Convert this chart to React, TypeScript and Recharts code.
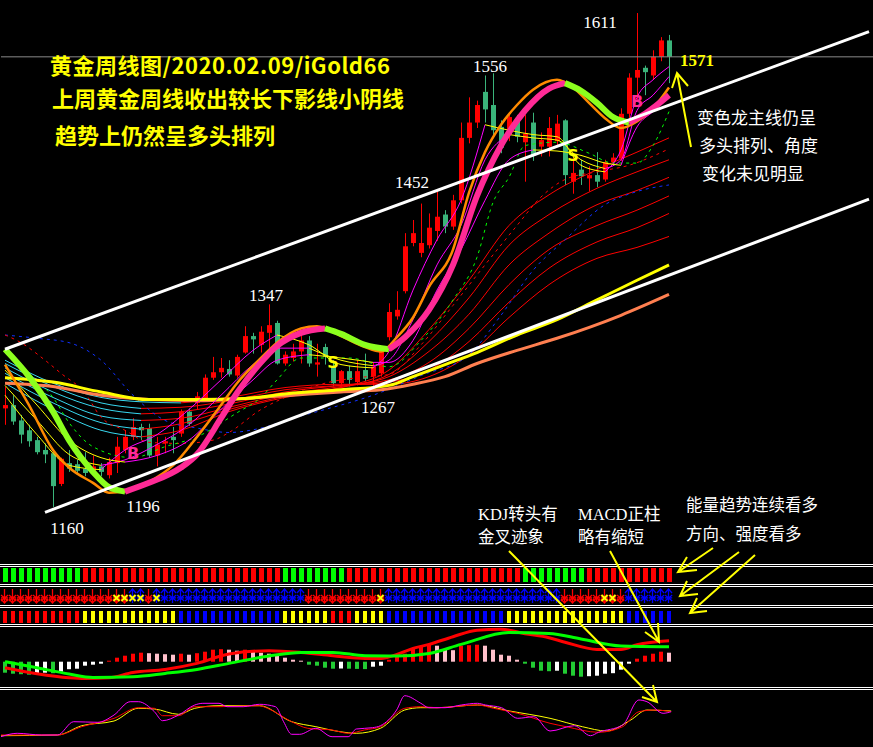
import React from "react";
import { ComposedChart, Bar, Line, XAxis, YAxis, ReferenceLine, ReferenceDot } from "recharts";

type Pt = [number, number];

// weekly gold candles, late Jun 2018 .. 7 Feb 2020
const opens = [
  1250, 1253, 1239, 1230, 1221, 1212, 1209, 1181, 1200, 1199,
  1195, 1193, 1197, 1189, 1200, 1212, 1224, 1233, 1232, 1207,
  1218, 1224, 1227, 1247, 1255, 1258, 1278, 1283, 1286, 1280,
  1301, 1316, 1308, 1319, 1328, 1291, 1296, 1302, 1312, 1290,
  1306, 1288, 1273, 1284, 1274, 1285, 1279, 1282, 1315, 1334,
  1357, 1401, 1392, 1399, 1412, 1427, 1416, 1440, 1497, 1511,
  1539, 1527, 1507, 1500, 1512, 1493, 1511, 1489, 1489, 1494,
  1513, 1457, 1468, 1460, 1463, 1459, 1475, 1478, 1519, 1552,
  1561, 1554, 1571, 1586,
];
const highs = [
  1270, 1262, 1244, 1235, 1224, 1218, 1212, 1205, 1212, 1203,
  1210, 1207, 1200, 1205, 1224, 1230, 1241, 1236, 1236, 1224,
  1224, 1233, 1249, 1250, 1265, 1281, 1297, 1296, 1294, 1299,
  1325, 1319, 1325, 1345, 1330, 1302, 1309, 1317, 1316, 1309,
  1309, 1294, 1285, 1289, 1294, 1300, 1292, 1306, 1346, 1357,
  1410, 1422, 1437, 1428, 1449, 1431, 1445, 1511, 1534, 1531,
  1554, 1556, 1513, 1520, 1518, 1518, 1520, 1502, 1516, 1518,
  1514, 1483, 1477, 1471, 1484, 1477, 1483, 1524, 1556, 1611,
  1563, 1577, 1589, 1591,
];
const lows = [
  1235, 1235, 1218, 1215, 1208, 1200, 1160, 1179, 1192, 1191,
  1188, 1192, 1188, 1186, 1191, 1209, 1221, 1221, 1205, 1197,
  1209, 1209, 1224, 1234, 1249, 1256, 1276, 1278, 1279, 1278,
  1300, 1300, 1301, 1305, 1290, 1289, 1293, 1291, 1288, 1279,
  1290, 1270, 1270, 1270, 1271, 1275, 1267, 1279, 1312, 1331,
  1355, 1398, 1388, 1396, 1403, 1410, 1413, 1437, 1492, 1506,
  1511, 1498, 1483, 1494, 1493, 1457, 1476, 1480, 1480, 1489,
  1454, 1446, 1454, 1448, 1452, 1457, 1472, 1476, 1515, 1530,
  1536, 1550, 1567, 1547,
];
const closes = [
  1253, 1238, 1226, 1220, 1210, 1208, 1179, 1204, 1195, 1193,
  1191, 1197, 1192, 1201, 1215, 1224, 1233, 1230, 1207, 1217,
  1220, 1221, 1247, 1236, 1261, 1278, 1283, 1287, 1281, 1297,
  1316, 1313, 1320, 1326, 1291, 1299, 1302, 1312, 1291, 1292,
  1297, 1273, 1284, 1276, 1284, 1277, 1288, 1303, 1338, 1340,
  1398, 1410, 1401, 1415, 1425, 1416, 1440, 1497, 1511, 1527,
  1523, 1504, 1488, 1516, 1498, 1501, 1481, 1495, 1506, 1510,
  1463, 1465, 1462, 1463, 1457, 1475, 1479, 1519, 1552, 1559,
  1557, 1571, 1586, 1571,
];

// moving averages, [bar, price]
const mainLine: Pt[] = [
  [0, 1304], [3, 1279], [6, 1247], [8, 1221], [11, 1192], [13, 1178], [15, 1174], [18, 1182],
  [22, 1196], [24, 1208], [27, 1241], [29, 1264], [32, 1292], [34, 1307], [37, 1319], [40, 1323],
  [42, 1318], [45, 1308], [48, 1304], [50, 1315], [53, 1340], [56, 1381], [59, 1444], [62, 1490],
  [65, 1522], [68, 1542], [70, 1547], [72, 1540], [74, 1529], [76, 1516], [78, 1511], [80, 1519], [83, 1536],
];
const orangeLine: Pt[] = [
  [0, 1290], [3, 1253], [6, 1212], [8, 1196], [11, 1182], [13, 1173], [15, 1174], [18, 1183],
  [21, 1198], [24, 1224], [27, 1253], [29, 1273], [32, 1296], [34, 1310], [37, 1323], [39, 1325],
  [42, 1316], [45, 1306], [47, 1302], [49, 1315], [51, 1333], [53, 1361], [56, 1395], [58, 1447],
  [60, 1484], [62, 1509], [64, 1527], [66, 1541], [69, 1550], [71, 1543], [73, 1529], [75, 1515],
  [77, 1506], [79, 1512], [81, 1524], [83, 1543],
];
const longYellow: Pt[] = [
  [0, 1278], [6, 1274], [12, 1265], [18, 1258], [24, 1258], [30, 1259], [36, 1264], [42, 1267],
  [48, 1271], [51, 1279], [55, 1290], [59, 1301], [64, 1317], [69, 1331], [74, 1349], [79, 1367], [83, 1381],
];
const longCoral: Pt[] = [
  [0, 1273], [6, 1270], [12, 1262], [18, 1258], [24, 1257], [30, 1259], [36, 1262], [42, 1265],
  [47, 1267], [51, 1272], [55, 1279], [59, 1291], [64, 1303], [69, 1314], [77, 1335], [83, 1354],
];
const greenDash: Pt[] = [
  [0, 1302], [3, 1282], [6, 1260], [8, 1237], [11, 1215], [16, 1205], [20, 1215], [24, 1224],
  [29, 1246], [32, 1260], [34, 1276], [37, 1296], [43, 1296], [48, 1288], [52, 1312], [56, 1349],
  [59, 1388], [61, 1438], [63, 1461], [65, 1490], [69, 1493], [73, 1483], [76, 1474], [79, 1474],
  [81, 1490], [83, 1521],
];
const redDash: Pt[] = [
  [0, 1317], [2, 1310], [5, 1294], [7, 1282], [10, 1264], [12, 1242], [15, 1230], [18, 1219],
  [22, 1218], [26, 1221], [28, 1228], [32, 1249], [35, 1260], [40, 1273], [44, 1278], [48, 1281],
  [52, 1308], [56, 1344], [60, 1381], [64, 1417], [67, 1443], [70, 1459], [74, 1466], [78, 1472], [83, 1487],
];
const blueDash: Pt[] = [
  [0, 1317], [4, 1314], [8, 1310], [12, 1294], [16, 1262], [20, 1239], [24, 1232], [28, 1228],
  [32, 1232], [36, 1241], [40, 1249], [46, 1262], [52, 1280], [58, 1299], [62, 1335], [66, 1376],
  [70, 1404], [75, 1436], [79, 1448], [83, 1454],
];
const ribbonAt = [0, 6, 12, 17, 22, 28, 35, 42, 48, 53, 58, 63, 68, 74, 79, 83];
const ribbon = [
  [1273, 1249, 1230, 1224, 1230, 1247, 1260, 1269, 1285, 1322, 1367, 1417, 1445, 1468, 1484, 1497],
  [1278, 1255, 1237, 1231, 1236, 1249, 1261, 1269, 1281, 1311, 1351, 1399, 1427, 1451, 1466, 1477],
  [1282, 1260, 1243, 1239, 1241, 1251, 1263, 1270, 1279, 1302, 1336, 1381, 1410, 1436, 1449, 1461],
  [1287, 1265, 1250, 1245, 1247, 1254, 1265, 1271, 1276, 1292, 1323, 1363, 1395, 1417, 1431, 1444],
  [1291, 1270, 1255, 1250, 1251, 1257, 1267, 1271, 1274, 1285, 1311, 1347, 1378, 1402, 1415, 1428],
  [1294, 1273, 1260, 1256, 1255, 1260, 1269, 1272, 1272, 1279, 1299, 1333, 1363, 1387, 1397, 1407],
];
const fastAt = [0, 4, 8, 12, 15, 19, 23, 27, 31, 34, 38, 42, 46, 48, 51, 54, 57, 60, 63, 66, 69, 72, 75, 77, 79, 81, 83];
const fast = [
  [1262, 1226, 1198, 1194, 1212, 1226, 1249, 1276, 1303, 1317, 1308, 1290, 1287, 1302, 1358, 1404, 1440, 1509, 1504, 1500, 1498, 1472, 1466, 1486, 1534, 1550, 1562],
  [1271, 1239, 1208, 1198, 1203, 1217, 1235, 1262, 1290, 1305, 1305, 1294, 1289, 1294, 1331, 1381, 1417, 1477, 1500, 1497, 1495, 1477, 1469, 1477, 1522, 1536, 1553],
  [1285, 1253, 1221, 1205, 1201, 1207, 1221, 1249, 1276, 1294, 1299, 1296, 1292, 1292, 1312, 1358, 1395, 1440, 1477, 1486, 1485, 1481, 1474, 1472, 1507, 1521, 1534],
];

// signal strips, run lengths [state, bars]
const trendRuns: Pt[] = [[-1, 10], [1, 25], [-1, 8], [1, 22], [-1, 8], [1, 11]];
const arrowRuns: Pt[] = [[-1, 16], [1, 2], [-1, 1], [1, 19], [-1, 10], [1, 22], [-1, 8], [1, 6]];
const crossAt = [14, 15, 16, 17, 19, 47, 75, 76];
const energyRuns: Pt[] = [[2, 10], [1, 12], [0, 13], [1, 6], [2, 3], [1, 4], [0, 15], [1, 15], [0, 6]];

// MACD
const macdHist = [
  -11, -12, -12.5, -13, -12, -11, -11.5, -10, -7.5, -7, -4, -3, -2,
  1, 4, 6, 8, 9, 8.5, 8, 7.5, 7, 8, 7, 8.5, 10, 12, 12.5, 12, 11, 12, 11, 9, 8, 7, 4, 2, 1,
  -3, -4, -6, -7, -6.8, -7, -7.2, -7.4, -5, -4,
  2, 7, 8, 13, 15, 17, 16, 12, 11.5, 16, 16.5, 17, 16, 12, 7, 6, 2,
  -2, -6, -9, -9.5, -9, -12, -14, -15, -14.5, -14, -12, -11.5, -8, -2,
  3, 6, 8, 10, 9,
];
const dif: Pt[] = [
  [0, -6], [4, -12], [8, -16], [10, -16.7], [13, -16], [16, -10.7], [20, -7.7], [24, -1.7], [28, 7.7],
  [33, 11], [37, 9.3], [41, 6], [45, 3.3], [47, 3.3], [49, 7.3], [51, 13.3], [53, 17.3], [56, 25],
  [59, 31.5], [62, 32.5], [65, 28], [68, 24], [70, 19.5], [74, 12.3], [77, 12.3], [79, 17], [83, 21],
];
const dea: Pt[] = [
  [0, 0], [4, -6], [8, -12.3], [11, -15.7], [16, -15], [20, -11.7], [24, -7.7], [28, -1.7], [33, 5.7],
  [37, 9.3], [41, 9.3], [45, 6], [49, 5.7], [53, 8.3], [57, 17.3], [63, 29.3], [68, 28.3], [72, 22.7],
  [77, 15.7], [83, 15],
];

// KDJ
const kdjJ: Pt[] = [
  [0, 8.3], [2, 11.7], [5, 10], [7, 10], [9, 23.3], [12, 22.7], [14, 30], [16, 43.3], [17, 43.3], [19, 33.3],
  [20, 24.3], [22, 30], [24, 40], [25, 41.7], [27, 41.7], [28, 38.3], [30, 38.3], [32, 40.7], [34, 38.3],
  [35, 23.3], [36, 10.7], [37, 10.7], [39, 16.7], [41, 8.3], [43, 8.3], [44, 16], [46, 17.3], [47, 19.3],
  [49, 35], [50, 49.3], [52, 41.7], [53, 37.3], [55, 37.3], [57, 40], [59, 41.7], [60, 40], [62, 37.3],
  [64, 26.7], [66, 28.3], [68, 14], [71, 19.3], [73, 9.3], [74, 12.7], [77, 20], [79, 45], [80, 43.3],
  [82, 31.7], [83, 33.3],
];
const kdjK: Pt[] = [
  [0, 10], [7, 10], [10, 18.3], [14, 26.7], [17, 37.3], [19, 36.7], [20, 29.3], [22, 29.3], [24, 38.3],
  [27, 38.3], [32, 39.3], [33, 36.7], [36, 23.3], [38, 16.7], [41, 15], [43, 11.7], [45, 15], [47, 18.3],
  [50, 36.7], [52, 38.3], [54, 37.3], [59, 40], [61, 36.7], [64, 31.7], [68, 21.7], [70, 18.3], [74, 12.7],
  [77, 18.3], [79, 33.3], [81, 35], [83, 33.3],
];
const kdjD: Pt[] = [
  [0, 9.3], [7, 10], [10, 19.3], [14, 24], [17, 36.7], [19, 36], [22, 30.7], [24, 36.7], [27, 39.3],
  [32, 39.3], [36, 23.3], [39, 18.3], [42, 13.3], [44, 11.7], [47, 16.7], [50, 35], [52, 37.3], [54, 37.3],
  [59, 40], [63, 34], [68, 26.7], [72, 18.3], [75, 14], [78, 25], [80, 35], [83, 34],
];

// notes on the price panel
const priceNotes = [
  { i: 79, p: 1611, text: "1611" },
  { i: 83, p: 1571, text: "1571" },
  { i: 61, p: 1556, text: "1556" },
  { i: 54, p: 1452, text: "1452" },
  { i: 33, p: 1347, text: "1347" },
  { i: 46, p: 1267, text: "1267" },
  { i: 15, p: 1174, text: "1196" },
  { i: 6, p: 1160, text: "1160" },
];
const signalMarks = [
  { i: 16, p: 1209, text: "B" },
  { i: 41, p: 1292, text: "S" },
  { i: 71, p: 1481, text: "S" },
  { i: 79, p: 1531, text: "B" },
];
const titleLines = ["黄金周线图/2020.02.09/iGold66", "上周黄金周线收出较长下影线小阴线", "趋势上仍然呈多头排列"];
const sideNotes = ["变色龙主线仍呈", "多头排列、角度", "变化未见明显"];

const N = opens.length;
const SLOTS = 109;
const MARGIN = { top: 0, right: 0, bottom: 0, left: 1 };
const RED = "#ff0000";
const DOWN_GREEN = "#3ab47a";
const YELLOW = "#ffff00";
const MAGENTA = "#ff00ff";
const PINK = "#ff2a96";
const LIME = "#8cff1e";
const CYAN = "#38d8f0";

const expand = (runs: Pt[]) => runs.flatMap(([s, n]) => Array(n).fill(s));
const trend = expand(trendRuns);
const arrows = expand(arrowRuns);
const energy = expand(energyRuns);

function splitRuns(pts: Pt[]) {
  const out: { up: boolean; pts: Pt[] }[] = [];
  for (let k = 1; k < pts.length; k++) {
    const up = pts[k][1] >= pts[k - 1][1];
    const last = out[out.length - 1];
    if (last && last.up === up) last.pts.push(pts[k]);
    else out.push({ up, pts: [pts[k - 1], pts[k]] });
  }
  return out;
}

const rows: Record<string, any>[] = Array.from({ length: SLOTS }, (_, i) => ({ i }));
for (let i = 0; i < N; i++) {
  Object.assign(rows[i], {
    hl: [lows[i], highs[i]], o: opens[i], c: closes[i],
    one: 1, trend: trend[i], arrow: arrows[i], cross: crossAt.includes(i), energy: energy[i],
    hist: macdHist[i], histPrev: i > 0 ? macdHist[i - 1] : undefined,
  });
}
const put = (key: string, pts: Pt[]) => pts.forEach(([i, v]) => (rows[i][key] = v));

type S = { key: string; stroke: string; width: number; dash?: string };
const back: S[] = [];
const front: S[] = [];
function twoTone(list: S[], name: string, pts: Pt[], upCol: string, downCol: string, width: number) {
  splitRuns(pts).forEach((r, k) => {
    const key = `${name}_${k}`;
    put(key, r.pts);
    list.push({ key, stroke: r.up ? upCol : downCol, width });
  });
}
function plain(list: S[], key: string, pts: Pt[], stroke: string, width: number, dash?: string) {
  put(key, pts);
  list.push({ key, stroke, width, dash });
}

ribbon.forEach((vals, k) => twoTone(back, `rb${k}`, vals.map((v, j) => [ribbonAt[j], v] as Pt), RED, CYAN, 1));
plain(back, "blueDash", blueDash, "#1030ff", 1, "3 4");
plain(back, "redDash", redDash, RED, 1, "3 4");
plain(back, "greenDash", greenDash, "#00ff00", 1, "3 4");
plain(back, "longCoral", longCoral, "#ff7f50", 3);
plain(back, "longYellow", longYellow, YELLOW, 3);
fast.forEach((vals, k) => twoTone(front, `f${k}`, vals.map((v, j) => [fastAt[j], v] as Pt), MAGENTA, YELLOW, 1));
plain(front, "orange", orangeLine, "#ff8a00", 2.5);
twoTone(front, "main", mainLine, PINK, LIME, 6);

put("dif", dif);
put("dea", dea);
put("kj", kdjJ);
put("kk", kdjK);
put("kd", kdjD);

const lineEl = (s: S) => (
  <Line key={s.key} dataKey={s.key} type="monotone" stroke={s.stroke} strokeWidth={s.width}
    strokeDasharray={s.dash} dot={false} activeDot={false} connectNulls isAnimationActive={false} />
);

function Candle(p: any) {
  const { x, y, width, height, payload } = p;
  if (!payload || payload.o == null) return <g />;
  const top = Math.min(y, y + height);
  const h = Math.abs(height);
  const [lo, hi] = payload.hl;
  const k = hi > lo ? h / (hi - lo) : 0;
  const yo = top + (hi - payload.o) * k;
  const yc = top + (hi - payload.c) * k;
  const col = payload.c >= payload.o ? RED : DOWN_GREEN;
  const cx = Math.floor(x + width / 2) + 0.5;
  return (
    <g>
      <line x1={cx} x2={cx} y1={top} y2={top + h} stroke={col} strokeWidth={1} />
      <rect x={cx - 2.5} y={Math.min(yo, yc)} width={5} height={Math.max(1, Math.abs(yc - yo))} fill={col} />
    </g>
  );
}

function TrendCell(p: any) {
  const { x, y, width, height, payload } = p;
  if (!payload || payload.trend == null) return <g />;
  return <rect x={x} y={y} width={width} height={height} fill={payload.trend > 0 ? RED : "#00ff00"} />;
}

function EnergyCell(p: any) {
  const { x, y, width, height, payload } = p;
  if (!payload || payload.energy == null) return <g />;
  const col = payload.energy === 2 ? RED : payload.energy === 1 ? YELLOW : "#0000ff";
  return <rect x={x} y={y} width={width} height={height} fill={col} />;
}

function ArrowCell(p: any) {
  const { x, y, width, height, payload } = p;
  if (!payload || payload.arrow == null) return <g />;
  const cx = Math.floor(x + width / 2) + 0.5;
  const t = y + 1;
  const b = y + height - 1;
  const m = y + height * 0.62;
  const up = payload.arrow > 0;
  const col = up ? "#0000ff" : RED;
  const head = up
    ? `M${cx - 3.5} ${t + 4} L${cx} ${t} L${cx + 3.5} ${t + 4}`
    : `M${cx - 3.5} ${b - 4} L${cx} ${b} L${cx + 3.5} ${b - 4}`;
  const lattice = `M${x} ${m - 3} L${x + width} ${m + 3} M${x} ${m + 3} L${x + width} ${m - 3} M${x} ${m} H${x + width}`;
  return (
    <g fill="none" strokeWidth={1.3}>
      <path d={`M${cx} ${t} V${b} ${head} ${lattice}`} stroke={col} />
      {payload.cross && (
        <path d={`M${cx - 3} ${m - 3} L${cx + 3} ${m + 3} M${cx - 3} ${m + 3} L${cx + 3} ${m - 3}`} stroke={YELLOW} strokeWidth={2} />
      )}
    </g>
  );
}

function HistCell(p: any) {
  const { x, y, width, height, payload } = p;
  if (!payload || payload.hist == null) return <g />;
  const v = payload.hist;
  const prev = payload.histPrev;
  let col: string;
  if (v >= 0) col = prev == null || v >= prev ? RED : "#ffc0cb";
  else col = prev == null || v <= prev ? "#22cc33" : "#ffffff";
  return <rect x={x} y={Math.min(y, y + height)} width={width} height={Math.max(1, Math.abs(height))} fill={col} />;
}

// label offsets in px from their anchor point
const NOTE_OFFSET: Record<string, [number, number]> = {
  "1611": [-37, 15], "1571": [28, 9], "1556": [-3, -1], "1452": [-25, 1],
  "1347": [-3, -1], "1267": [5, 23], "1196": [18, 20], "1160": [14, 27],
};

const abs = (left: number, top: number): React.CSSProperties => ({ position: "absolute", left, top });

const xAxis = <XAxis dataKey="i" type="category" hide />;

export default function App() {
  return (
    <div style={{ position: "fixed", left: 0, top: 0, width: 873, height: 747, background: "#000", overflow: "hidden" }}>
      <div style={abs(0, 0)}>
        <ComposedChart width={873} height={556} data={rows} margin={MARGIN}>
          {xAxis}
          <YAxis type="number" domain={[1115.2, 1622.9]} hide allowDataOverflow />
          <ReferenceLine y={1571} stroke="#8a8a8a" strokeWidth={1} />
          {back.map(lineEl)}
          <Bar dataKey="hl" barSize={5} shape={Candle} isAnimationActive={false} />
          {front.map(lineEl)}
          <ReferenceLine segment={[{ x: 0, y: 1304 }, { x: 108, y: 1594 }]} stroke="#ffffff" strokeWidth={3} />
          <ReferenceLine segment={[{ x: 5, y: 1155 }, { x: 108, y: 1441 }]} stroke="#ffffff" strokeWidth={3} />
          {signalMarks.map((m, k) => (
            <ReferenceDot key={`m${k}`} x={m.i} y={m.p} r={0}
              shape={(s: any) => (
                <text x={s.cx} y={s.cy + 6} textAnchor="middle" fontFamily="'DejaVu Sans', sans-serif" fontWeight={700}
                  fontSize={16} fill={m.text === "B" ? PINK : YELLOW}>{m.text}</text>
              )} />
          ))}
          {priceNotes.map((n) => (
            <ReferenceDot key={n.text} x={n.i} y={n.p} r={0}
              shape={(s: any) => {
                const [dx, dy] = NOTE_OFFSET[n.text];
                const hot = n.text === "1571";
                return (
                  <text x={s.cx + dx} y={s.cy + dy} textAnchor="middle" fontFamily="'Liberation Serif', serif"
                    fontWeight={hot ? 700 : 400} fontSize={17} fill={hot ? YELLOW : "#ffffff"}>{n.text}</text>
                );
              }} />
          ))}
        </ComposedChart>
      </div>

      {[564, 566, 584, 586, 605, 607, 624, 626, 687, 689].map((t) => (
        <div key={t} style={{ ...abs(0, t), width: 873, height: 1, background: "#fff" }} />
      ))}

      <div style={abs(0, 568)}>
        <ComposedChart width={873} height={14} data={rows} margin={MARGIN}>
          {xAxis}
          <YAxis type="number" domain={[0, 1]} hide />
          <Bar dataKey="one" barSize={5} shape={TrendCell} isAnimationActive={false} />
        </ComposedChart>
      </div>
      <div style={abs(0, 588)}>
        <ComposedChart width={873} height={16} data={rows} margin={MARGIN}>
          {xAxis}
          <YAxis type="number" domain={[0, 1]} hide />
          <Bar dataKey="one" barSize={8} shape={ArrowCell} isAnimationActive={false} />
        </ComposedChart>
      </div>
      <div style={abs(0, 611)}>
        <ComposedChart width={873} height={12} data={rows} margin={MARGIN}>
          {xAxis}
          <YAxis type="number" domain={[0, 1]} hide />
          <Bar dataKey="one" barSize={4} shape={EnergyCell} isAnimationActive={false} />
        </ComposedChart>
      </div>

      <div style={abs(0, 627)}>
        <ComposedChart width={873} height={60} data={rows} margin={MARGIN}>
          {xAxis}
          <YAxis type="number" domain={[-25.3, 34.7]} hide allowDataOverflow />
          <Bar dataKey="hist" barSize={4} shape={HistCell} isAnimationActive={false} />
          <Line dataKey="dif" type="monotone" stroke={RED} strokeWidth={3} dot={false} activeDot={false} connectNulls isAnimationActive={false} />
          <Line dataKey="dea" type="monotone" stroke="#00ff00" strokeWidth={3} dot={false} activeDot={false} connectNulls isAnimationActive={false} />
        </ComposedChart>
      </div>

      <div style={abs(0, 690)}>
        <ComposedChart width={873} height={57} data={rows} margin={MARGIN}>
          {xAxis}
          <YAxis type="number" domain={[-2, 55]} hide allowDataOverflow />
          <Line dataKey="kd" type="monotone" stroke={YELLOW} strokeWidth={1} dot={false} activeDot={false} connectNulls isAnimationActive={false} />
          <Line dataKey="kk" type="monotone" stroke={RED} strokeWidth={1} dot={false} activeDot={false} connectNulls isAnimationActive={false} />
          <Line dataKey="kj" type="monotone" stroke={MAGENTA} strokeWidth={1} dot={false} activeDot={false} connectNulls isAnimationActive={false} />
        </ComposedChart>
      </div>

      {titleLines.map((t, k) => (
        <div key={t} style={{ ...abs([50, 52, 55][k], [52, 85, 122][k]), color: YELLOW, fontFamily: "'Noto Sans CJK SC', sans-serif",
          fontWeight: 700, fontSize: 22, lineHeight: "24px", letterSpacing: k === 0 ? 0.5 : 0, whiteSpace: "nowrap" }}>{t}</div>
      ))}
      {sideNotes.map((t, k) => (
        <div key={t} style={{ ...abs([697, 699, 702][k], [107, 135, 163][k]), color: "#fff", fontFamily: "'Noto Sans CJK SC', sans-serif",
          fontSize: 17, lineHeight: "20px", whiteSpace: "nowrap" }}>{t}</div>
      ))}
      {[
        ["KDJ转头有", 478, 505], ["金叉迹象", 478, 528], ["MACD正柱", 578, 505], ["略有缩短", 578, 528],
        ["能量趋势连续看多", 686, 496], ["方向、强度看多", 686, 525],
      ].map(([t, l, tp]) => (
        <div key={t as string} style={{ ...abs(l as number, tp as number), color: "#fff",
          fontFamily: "'Liberation Serif', 'Noto Sans CJK SC', serif", fontSize: 16.5, lineHeight: "20px", whiteSpace: "nowrap" }}>{t}</div>
      ))}

      <svg width={873} height={747} style={{ ...abs(0, 0), pointerEvents: "none" }}>
        <g stroke={YELLOW} strokeWidth={2} fill="none">
          <path d="M691 147 L677 73 M672 88 L677 73 L688 86" />
          <path d="M509 551 L657 702 M642 697 L657 702 L653 685" />
          <path d="M610 551 L659 642 M645 632 L659 642 L658 623" />
          <path d="M713 548 L678 572 M687 557 L678 572 L697 570" />
          <path d="M739 552 L680 596 M687 581 L680 596 L698 594" />
          <path d="M755 555 L690 613 M697 598 L690 613 L707 611" />
        </g>
      </svg>
    </div>
  );
}
